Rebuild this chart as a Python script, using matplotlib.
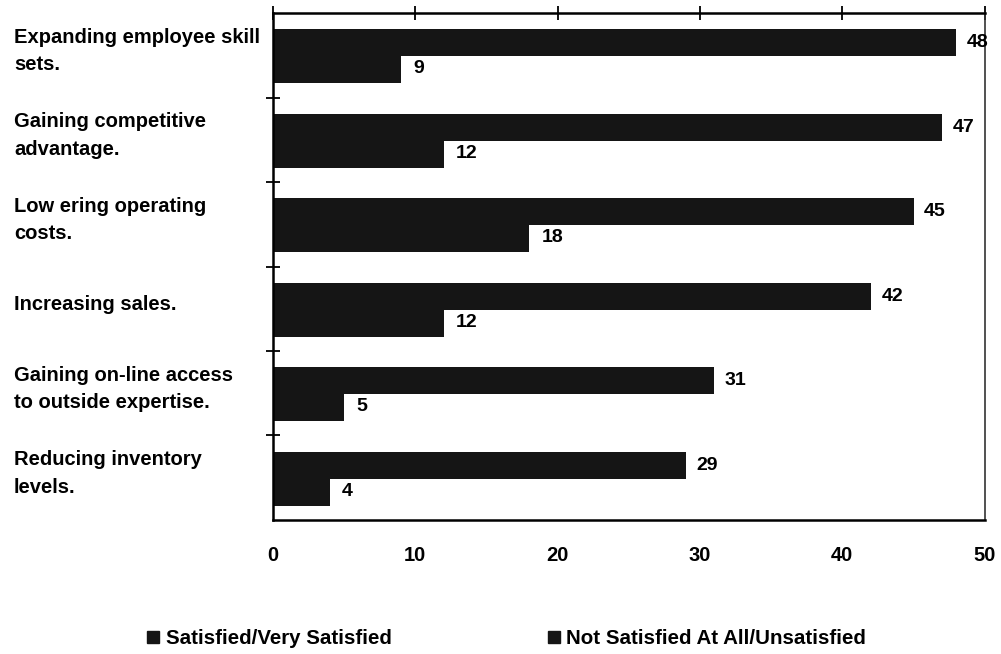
import matplotlib.pyplot as plt
from matplotlib.lines import Line2D
import numpy as np

plt.rcParams['font.family'] = ['Liberation Sans', 'DejaVu Sans']
plt.rcParams['font.weight'] = 'bold'

categories = [
    'Expanding employee skill\nsets.',
    'Gaining competitive\nadvantage.',
    'Low ering operating\ncosts.',
    'Increasing sales.',
    'Gaining on-line access\nto outside expertise.',
    'Reducing inventory\nlevels.',
]
satisfied = [48, 47, 45, 42, 31, 29]
unsatisfied = [9, 12, 18, 12, 5, 4]
series_names = ['Satisfied/Very Satisfied', 'Not Satisfied At All/Unsatisfied']
xticks = [0, 10, 20, 30, 40, 50]

bar_color = '#151515'
fig = plt.figure(figsize=(10.01, 6.54), dpi=100)
ax = fig.add_axes([0.2727, 0.205, 0.711, 0.775])

idx = np.arange(len(categories))
h = 0.32
ax.barh(idx - 0.15, satisfied, h, color=bar_color)
ax.barh(idx + 0.17, unsatisfied, h, color=bar_color)

for i in idx:
    ax.text(satisfied[i] + 0.75, i - 0.15, str(satisfied[i]), ha='left', va='center', fontsize=14, fontweight='bold')
    ax.text(unsatisfied[i] + 0.85, i + 0.16, str(unsatisfied[i]), ha='left', va='center', fontsize=14, fontweight='bold')
    # category names sit in the left margin, left aligned
    ax.annotate(categories[i], xy=(0, i - 0.05), xycoords=('figure fraction', 'data'),
                xytext=(14, 0), textcoords='offset pixels', ha='left', va='center',
                fontsize=14.5, fontweight='bold', linespacing=1.55)

ax.set_xlim(0, 50)
ax.set_ylim(5.5, -0.5)
ax.set_xticks(xticks)
ax.set_xticklabels([str(t) for t in xticks], fontsize=14.5, fontweight='bold')
ax.tick_params(axis='x', top=True, bottom=False, labelbottom=True, direction='inout',
               length=10, width=1.3, pad=14)
ax.set_yticks(np.arange(0.5, 5.5, 1.0))
ax.set_yticklabels([])
ax.tick_params(axis='y', left=True, direction='inout', length=10, width=1.3)

for side in ['top', 'left', 'bottom']:
    ax.spines[side].set_linewidth(1.8)
ax.spines['right'].set_linewidth(1.2)
ax.spines['right'].set_color('#333333')

handles = [Line2D([], [], marker='s', linestyle='none', markersize=8, color=bar_color) for _ in series_names]
fig.legend(handles, series_names, ncol=2, loc='center', bbox_to_anchor=(0.506, 0.023),
           frameon=False, fontsize=14.8, handlelength=0.6, handletextpad=0.3, columnspacing=7.6)

fig.savefig('out.png', dpi=100)
